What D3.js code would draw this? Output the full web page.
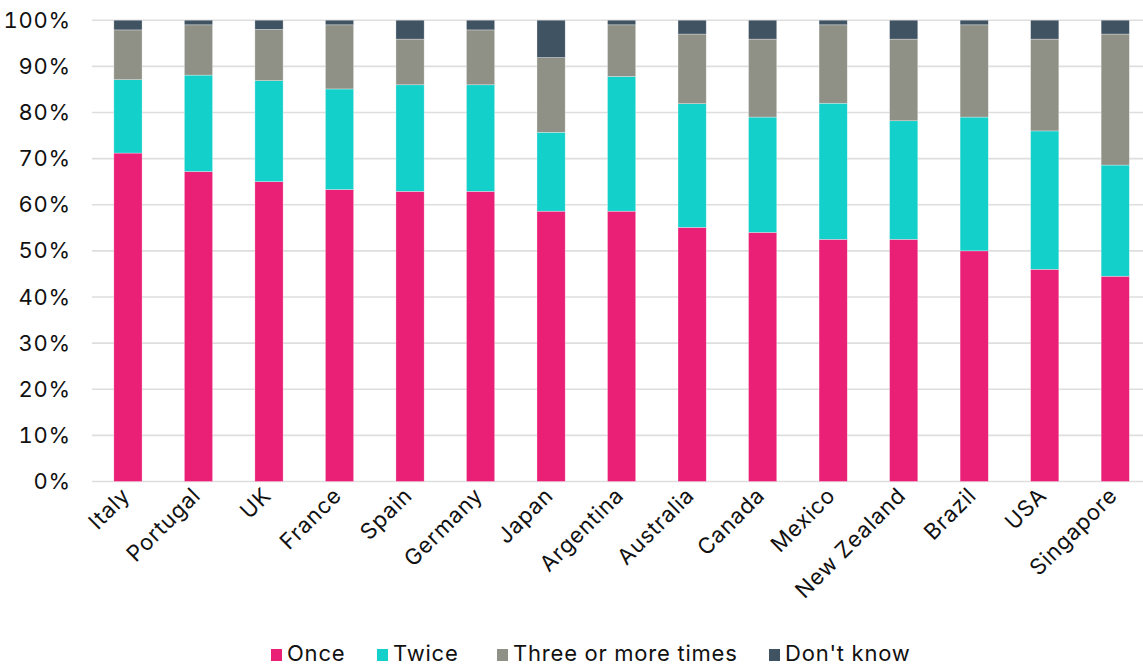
<!DOCTYPE html>
<html>
<head>
<meta charset="utf-8">
<script src="https://cdn.jsdelivr.net/npm/d3@7"></script>
<style>
  html, body { margin: 0; padding: 0; background: #fff; }
  svg { display: block; font-family: Inter, "Noto Sans", sans-serif; }
  svg text { font-variant-numeric: tabular-nums; }
</style>
</head>
<body>
<svg id="chart" width="1143" height="666"></svg>
<script>
const categories = ["Italy","Portugal","UK","France","Spain","Germany","Japan","Argentina","Australia","Canada","Mexico","New Zealand","Brazil","USA","Singapore"];
const seriesNames = ["Once","Twice","Three or more times","Don't know"];
const once    = [71.2, 67.2, 65.0, 63.3, 62.9, 62.9, 58.6, 58.6, 55.1, 54.0, 52.5, 52.5, 50.0, 46.0, 44.5];
const twice   = [15.9, 20.9, 21.9, 21.8, 23.1, 23.1, 17.1, 29.2, 26.8, 25.0, 29.5, 25.7, 29.0, 30.0, 24.1];
const three   = [10.8, 10.9, 11.1, 13.9,  9.9, 11.9, 16.2, 11.2, 15.1, 16.9, 17.0, 17.7, 20.0, 19.9, 28.4];
const dontKnow= [ 2.1,  1.0,  2.0,  1.0,  4.1,  2.1,  8.1,  1.0,  3.0,  4.1,  1.0,  4.1,  1.0,  4.1,  3.0];
const yTicks  = [0,10,20,30,40,50,60,70,80,90,100];
const colors  = ["#EA1F76","#13D0CA","#909186","#405363"];

const seriesValues = [once, twice, three, dontKnow];
const rows = categories.map((c, i) => {
  const r = { cat: c };
  seriesNames.forEach((s, j) => r[s] = seriesValues[j][i]);
  return r;
});

const FS = 22, LS = 0.8;
const svg = d3.select("#chart");
const x = d3.scaleBand().domain(categories).range([92.7, 1150.5]).paddingInner(0.6).paddingOuter(0.3);
const y = d3.scaleLinear().domain([0, 100]).range([481.5, 20.2]);

// gridlines
svg.append("g").selectAll("line").data(yTicks).join("line")
  .attr("x1", 92).attr("x2", 1143)
  .attr("y1", d => y(d)).attr("y2", d => y(d))
  .attr("stroke", "#dedede").attr("stroke-width", 1.6);

// y axis labels
const yAxis = d3.axisLeft(y).tickValues(yTicks).tickFormat(d => d + "%").tickSize(0).tickPadding(0);
const yg = svg.append("g").attr("transform", "translate(71,0)").call(yAxis);
yg.select(".domain").remove();
yg.selectAll("text").attr("font-size", FS).attr("letter-spacing", LS).attr("fill", "#111").attr("font-family", "Inter, sans-serif");

// stacked bars
const stacked = d3.stack().keys(seriesNames)(rows);
svg.append("g").selectAll("g").data(stacked).join("g")
  .attr("fill", (d, i) => colors[i])
  .selectAll("rect").data(d => d).join("rect")
  .attr("x", d => x(d.data.cat))
  .attr("width", x.bandwidth())
  .attr("y", d => y(d[1]))
  .attr("height", d => y(d[0]) - y(d[1]))
  .attr("stroke", "#ffffff").attr("stroke-opacity", 0.5).attr("stroke-width", 0.6);

// x axis labels
const xAxis = d3.axisBottom(x).tickSize(0).tickPadding(0);
const xg = svg.append("g").attr("transform", "translate(0,481.5)").call(xAxis);
xg.select(".domain").remove();
xg.selectAll("text")
  .attr("font-size", FS).attr("letter-spacing", LS).attr("fill", "#111").attr("font-family", "Inter, sans-serif")
  .attr("text-anchor", "end")
  .attr("dy", "0.35em")
  .attr("transform", "translate(-2,10) rotate(-45)");

// legend
const legendItems = [
  { name: seriesNames[0], x: 271 },
  { name: seriesNames[1], x: 377 },
  { name: seriesNames[2], x: 497 },
  { name: seriesNames[3], x: 769 }
];
const lg = svg.append("g");
legendItems.forEach((it, i) => {
  lg.append("rect").attr("x", it.x).attr("y", 649).attr("width", 11).attr("height", 12).attr("fill", colors[i]);
  lg.append("text").attr("x", it.x + 16).attr("y", 661).text(it.name)
    .attr("font-size", FS).attr("letter-spacing", LS).attr("fill", "#111").attr("font-family", "Inter, sans-serif");
});
</script>
</body>
</html>
